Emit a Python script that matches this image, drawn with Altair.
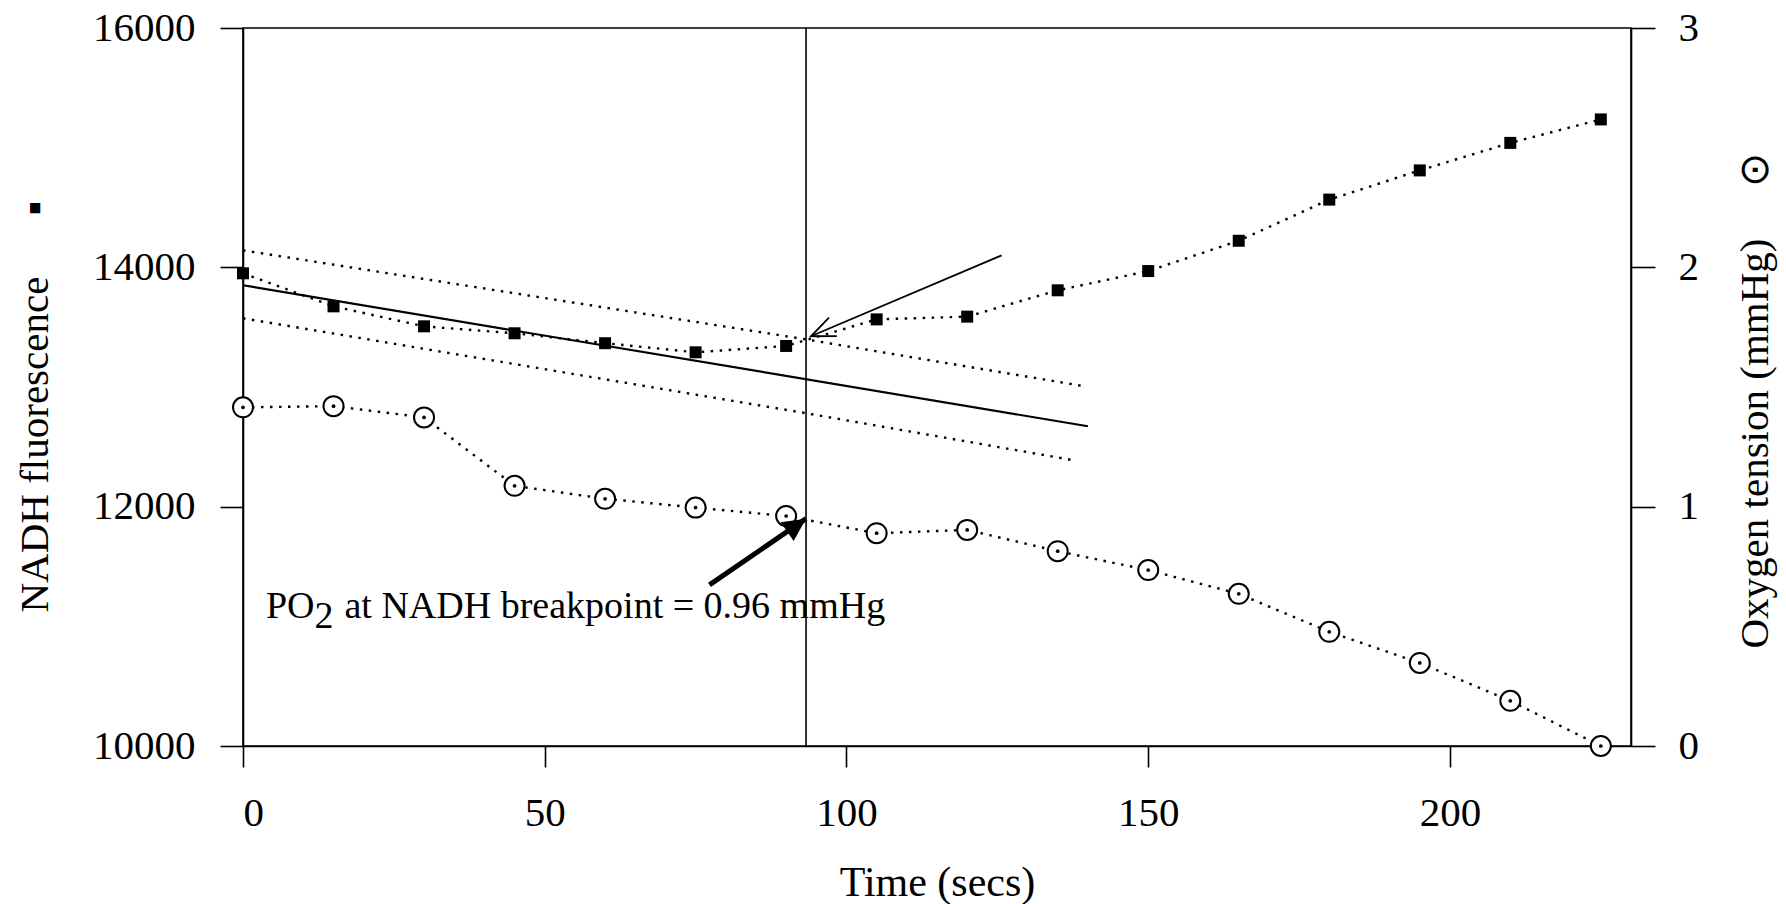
import math
import altair as alt
import pandas as pd

# Sampling times (s)
time_s = [0, 15, 30, 45, 60, 75, 90, 105, 120, 135, 150, 165, 180, 195, 210, 225]
# NADH fluorescence (left axis, filled squares)
nadh = [13950, 13674, 13507, 13449, 13366, 13290, 13343, 13565, 13588,
        13808, 13969, 14222, 14566, 14810, 15040, 15236]
# Oxygen tension, mmHg (right axis, circled dots)
po2 = [1.415, 1.42, 1.373, 1.087, 1.033, 0.996, 0.961, 0.889, 0.903,
       0.814, 0.735, 0.636, 0.477, 0.347, 0.189, 0.0]

# Regression of the early NADH points and its confidence band
fit_t = [0, 140]
fit_nadh = [13850, 12672]
ci_upper_t = [0, 93.3, 139.4]
ci_upper = [14142, 13398, 13006]
ci_lower_t = [0, 93.3, 137.6]
ci_lower = [13574, 12781, 12388]

# Breakpoint
breakpoint_t = 93.3
breakpoint_po2 = 0.96

# Annotation arrows: (t start, value start, t tip, value tip)
nadh_arrow = [125.7, 14100, 94.1, 13424]
po2_arrow = [77.3, 0.673, 93.3, 0.95]
label_pos = [3.8, 0.535]

W, H = 1388, 718
X_DOM = [0, 230]
NADH_DOM = [10000, 16000]
PO2_DOM = [0, 3]
FONT = "Liberation Serif"
NBSP = "\u00a0"
LABEL_SIZE = 38

x_enc = alt.X(
    "t:Q",
    scale=alt.Scale(domain=X_DOM, nice=False, zero=False),
    axis=alt.Axis(values=[0, 50, 100, 150, 200], title="Time (secs)",
                  tickSize=21, labelPadding=26, titleBaseline="alphabetic",
                  titleY=149, titleFontSize=42),
)
y_left = alt.Y(
    "v:Q",
    scale=alt.Scale(domain=NADH_DOM, nice=False, zero=False),
    axis=alt.Axis(orient="left", values=[10000, 12000, 14000, 16000], format="d",
                  title="NADH fluorescence" + NBSP * 6 + "\u25aa",
                  tickSize=23, labelPadding=25,
                  titleAngle=270, titleAlign="left", titleBaseline="alphabetic",
                  titleX=-196, titleY=584, titleFontSize=41),
)
y_right = alt.Y(
    "v:Q",
    scale=alt.Scale(domain=PO2_DOM, nice=False, zero=False),
    axis=alt.Axis(orient="right", values=[0, 1, 2, 3], format="d",
                  title="Oxygen tension (mmHg)" + NBSP * 5 + "\u2299",
                  tickSize=24, labelPadding=23,
                  titleAngle=270, titleAlign="left", titleBaseline="alphabetic",
                  titleX=136, titleY=620, titleFontSize=41),
)


def head_angle(seg, ydom):
    """Screen-space direction of an arrow segment, in degrees clockwise."""
    px = W / (X_DOM[1] - X_DOM[0])
    py = H / (ydom[1] - ydom[0])
    dx = (seg[2] - seg[0]) * px
    dy = -(seg[3] - seg[1]) * py
    return math.degrees(math.atan2(dy, dx)) % 360


nadh_df = pd.DataFrame({"t": time_s, "v": nadh})
po2_df = pd.DataFrame({"t": time_s, "v": po2})
fit_df = pd.DataFrame({"t": fit_t, "v": fit_nadh})
ci_df = pd.DataFrame({
    "t": ci_upper_t + ci_lower_t,
    "v": ci_upper + ci_lower,
    "band": ["upper"] * len(ci_upper) + ["lower"] * len(ci_lower),
})
bp_df = pd.DataFrame({"t": [breakpoint_t]})
nadh_arrow_df = pd.DataFrame({"t": [nadh_arrow[0], nadh_arrow[2]],
                              "v": [nadh_arrow[1], nadh_arrow[3]]})
nadh_tip_df = pd.DataFrame({"t": [nadh_arrow[2]], "v": [nadh_arrow[3]]})
po2_arrow_df = pd.DataFrame({"t": [po2_arrow[0], po2_arrow[2]],
                             "v": [po2_arrow[1], po2_arrow[3]]})
po2_tip_df = pd.DataFrame({"t": [po2_arrow[2]], "v": [po2_arrow[3]]})
label_df = pd.DataFrame({"t": [label_pos[0]], "v": [label_pos[1]]})

dotted = dict(strokeDash=[2.5, 6.5], strokeWidth=2.4, color="black")

# ---- NADH side (left axis) ----
nadh_line = alt.Chart(nadh_df).mark_line(**dotted).encode(x=x_enc, y=y_left)
nadh_pts = alt.Chart(nadh_df).mark_point(
    shape="square", filled=True, color="black", size=144, opacity=1
).encode(x=x_enc, y=y_left)
fit_line = alt.Chart(fit_df).mark_line(color="black", strokeWidth=2.2).encode(x=x_enc, y=y_left)
ci_lines = alt.Chart(ci_df).mark_line(**dotted).encode(x=x_enc, y=y_left, detail="band:N")
bp_rule = alt.Chart(bp_df).mark_rule(color="black", strokeWidth=1.6).encode(x=x_enc)
thin_arrow = alt.Chart(nadh_arrow_df).mark_line(color="black", strokeWidth=1.8).encode(x=x_enc, y=y_left)
thin_head = alt.Chart(nadh_tip_df).mark_point(
    shape="M -1 -0.42 L 0 0 L -1 0.42", filled=False, color="black",
    strokeWidth=1.8, size=2300, opacity=1, angle=head_angle(nadh_arrow, NADH_DOM),
).encode(x=x_enc, y=y_left)

left = alt.layer(ci_lines, fit_line, bp_rule, nadh_line, nadh_pts, thin_arrow, thin_head)

# ---- Oxygen side (right axis) ----
po2_line = alt.Chart(po2_df).mark_line(**dotted).encode(x=x_enc, y=y_right)
po2_rings = alt.Chart(po2_df).mark_point(
    shape="circle", filled=True, fill="white", stroke="black", strokeWidth=2,
    size=400, opacity=1,
).encode(x=x_enc, y=y_right)
po2_dots = alt.Chart(po2_df).mark_point(
    shape="circle", filled=True, color="black", size=14, opacity=1
).encode(x=x_enc, y=y_right)
thick_arrow = alt.Chart(po2_arrow_df).mark_line(color="black", strokeWidth=5).encode(x=x_enc, y=y_right)
thick_head = alt.Chart(po2_tip_df).mark_point(
    shape="M 0 0 L -1 -0.5 L -1 0.5 Z", filled=True, color="black",
    size=2100, opacity=1, angle=head_angle(po2_arrow, PO2_DOM),
).encode(x=x_enc, y=y_right)

# "PO2 at NADH breakpoint = 0.96 mmHg" with the 2 set as a subscript
po_w = 1.278 * LABEL_SIZE
two_w = 0.5 * LABEL_SIZE
label_kw = dict(font=FONT, fontSize=LABEL_SIZE, color="black", align="left", baseline="alphabetic")
label_a = alt.Chart(label_df).mark_text(text="PO", **label_kw).encode(x=x_enc, y=y_right)
label_b = alt.Chart(label_df).mark_text(text="2", dx=po_w, dy=10, **label_kw).encode(x=x_enc, y=y_right)
label_c = alt.Chart(label_df).mark_text(
    text=f"at NADH breakpoint = {breakpoint_po2:.2f} mmHg", dx=po_w + two_w + 11, **label_kw
).encode(x=x_enc, y=y_right)

right = alt.layer(po2_line, po2_rings, po2_dots, thick_arrow, thick_head,
                  label_a, label_b, label_c)

chart = alt.layer(left, right).resolve_scale(y="independent").properties(
    width=W, height=H,
    autosize=alt.AutoSizeParams(type="none"),
    padding={"left": 243, "top": 28, "right": 155, "bottom": 158},
    background="white",
).configure_view(
    stroke="black", strokeWidth=1.6
).configure_axis(
    grid=False, domainColor="black", domainWidth=1.6, tickColor="black",
    tickWidth=1.6, labelColor="black", labelFont=FONT, labelFontSize=41,
    titleColor="black", titleFont=FONT, titleFontWeight="normal",
)

chart.save("out.html", embed_options={"renderer": "svg", "actions": False})
